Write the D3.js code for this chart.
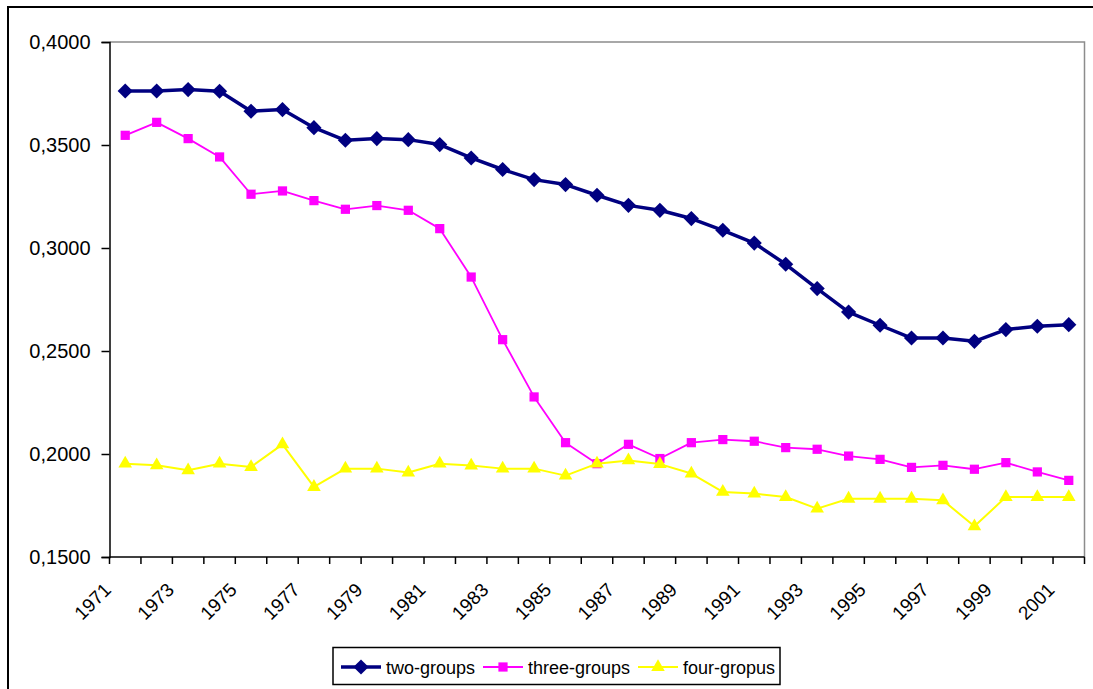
<!DOCTYPE html>
<html>
<head>
<meta charset="utf-8">
<script src="https://cdn.jsdelivr.net/npm/d3@7"></script>
<style>
  html, body { margin: 0; padding: 0; background: #ffffff; }
  svg { display: block; font-family: "Liberation Sans", Arial, sans-serif; }
</style>
</head>
<body>
<svg id="chart" width="1093" height="689"></svg>
<script>
// Years on the category axis
const years = d3.range(1971, 2002).map(String);

// Series values, one per year
const twoGroups = [
  0.3762, 0.3762, 0.3769, 0.3761, 0.3664, 0.3672, 0.3584, 0.3523, 0.3531, 0.3526,
  0.3502, 0.3437, 0.3381, 0.3332, 0.3308, 0.3256, 0.3207, 0.3183, 0.3143, 0.3086,
  0.3024, 0.2921, 0.2803, 0.2689, 0.2625, 0.2563, 0.2563, 0.2547, 0.2604, 0.2620,
  0.2628
];
const threeGroups = [
  0.3547, 0.3610, 0.3531, 0.3442, 0.3261, 0.3277, 0.3230, 0.3188, 0.3206, 0.3183,
  0.3094, 0.2859, 0.2555, 0.2277, 0.2055, 0.1953, 0.2047, 0.1978, 0.2055, 0.2070,
  0.2062, 0.2031, 0.2023, 0.1990, 0.1974, 0.1935, 0.1945, 0.1926, 0.1958, 0.1913,
  0.1872
];
const fourGroups = [
  0.1953, 0.1945, 0.1921, 0.1953, 0.1937, 0.2047, 0.1840, 0.1929, 0.1929, 0.1910,
  0.1953, 0.1944, 0.1929, 0.1929, 0.1895, 0.1953, 0.1969, 0.1951, 0.1905, 0.1816,
  0.1808, 0.1791, 0.1735, 0.1783, 0.1783, 0.1783, 0.1775, 0.1649, 0.1791, 0.1791,
  0.1791
];

// Value axis ticks
const yTicks = [0.15, 0.20, 0.25, 0.30, 0.35, 0.40];
// Year labels shown on the axis (every other year)
const xLabels = years.filter((d, i) => i % 2 === 0);

const seriesNames = ["two-groups", "three-groups", "four-gropus"];
const seriesValues = [twoGroups, threeGroups, fourGroups];
const seriesColors = ["#000080", "#FF00FF", "#FFFF00"];
const seriesWidths = [3.5, 1.8, 2];
const seriesSymbols = [d3.symbolSquare, d3.symbolSquare, d3.symbolTriangle];
const seriesSymbolSizes = [115, 85, 80];
const seriesSymbolRotate = [45, 0, 0];

const svg = d3.select("#chart");

// Outer chart frame
svg.append("rect")
  .attr("x", 8).attr("y", 7)
  .attr("width", 1200).attr("height", 800)
  .attr("fill", "none").attr("stroke", "#000").attr("stroke-width", 2);

const plot = { left: 109.5, right: 1084.5, top: 42, bottom: 557 };

const x = d3.scaleBand().domain(years).range([plot.left, plot.right]).padding(0);
const y = d3.scaleLinear().domain([0.15, 0.40]).range([plot.bottom, plot.top]);
const cx = d => x(d) + x.bandwidth() / 2;

// Plot area border (top and right in grey)
svg.append("path")
  .attr("d", `M${plot.left},${plot.top}H${plot.right}V${plot.bottom}`)
  .attr("fill", "none").attr("stroke", "#8c8c8c").attr("stroke-width", 1.5);

// Y axis
const yAxis = svg.append("g")
  .attr("transform", `translate(${plot.left},0)`)
  .call(d3.axisLeft(y).tickValues(yTicks).tickSize(8).tickPadding(11)
    .tickFormat(d => d3.format(".4f")(d).replace(".", ",")));
yAxis.select(".domain").attr("stroke", "#000").attr("stroke-width", 1.5);
yAxis.selectAll(".tick line").attr("stroke", "#000").attr("stroke-width", 1.5);
yAxis.selectAll(".tick text")
  .attr("font-size", 20).attr("fill", "#000")
  .attr("font-family", "Liberation Sans, Arial, sans-serif");

// X axis: ticks at category boundaries
const xAxisG = svg.append("g");
xAxisG.append("line")
  .attr("x1", plot.left).attr("x2", plot.right)
  .attr("y1", plot.bottom).attr("y2", plot.bottom)
  .attr("stroke", "#000").attr("stroke-width", 1.5);
const boundaries = years.map(d => x(d)).concat([plot.right]);
xAxisG.selectAll("line.tick")
  .data(boundaries)
  .join("line")
  .attr("class", "tick")
  .attr("x1", d => d).attr("x2", d => d)
  .attr("y1", plot.bottom).attr("y2", plot.bottom + 7)
  .attr("stroke", "#000").attr("stroke-width", 1.5);
xAxisG.selectAll("text")
  .data(xLabels)
  .join("text")
  .attr("transform", d => `translate(${cx(d) - 13},${plot.bottom + 34}) rotate(-45)`)
  .attr("text-anchor", "end")
  .attr("font-size", 19)
  .attr("fill", "#000")
  .text(d => d);

// Series lines and markers
const markerPath = i => d3.symbol().type(seriesSymbols[i]).size(seriesSymbolSizes[i])();
seriesValues.forEach((vals, i) => {
  const pts = years.map((yr, j) => [cx(yr), y(vals[j])]);
  svg.append("path")
    .datum(pts)
    .attr("d", d3.line())
    .attr("fill", "none")
    .attr("stroke", seriesColors[i])
    .attr("stroke-width", seriesWidths[i])
    .attr("stroke-linejoin", "round");
  svg.append("g").selectAll("path")
    .data(pts)
    .join("path")
    .attr("transform", d => `translate(${d[0]},${d[1]}) rotate(${seriesSymbolRotate[i]})`)
    .attr("d", markerPath(i))
    .attr("fill", seriesColors[i]);
});

// Legend
const legend = svg.append("g");
legend.append("rect")
  .attr("x", 333).attr("y", 647.5)
  .attr("width", 447).attr("height", 37)
  .attr("fill", "#fff").attr("stroke", "#000").attr("stroke-width", 1.5);
const legendX = [341, 483, 638];
seriesNames.forEach((name, i) => {
  const g = legend.append("g").attr("transform", `translate(${legendX[i]},667)`);
  g.append("line").attr("x1", 0).attr("x2", 40)
    .attr("stroke", seriesColors[i]).attr("stroke-width", seriesWidths[i]);
  g.append("path").attr("transform", `translate(20,0) rotate(${seriesSymbolRotate[i]})`)
    .attr("d", markerPath(i))
    .attr("fill", seriesColors[i]);
  g.append("text").attr("x", 45).attr("y", 6.5)
    .attr("font-size", 18).attr("fill", "#000")
    .text(name);
});
</script>
</body>
</html>
